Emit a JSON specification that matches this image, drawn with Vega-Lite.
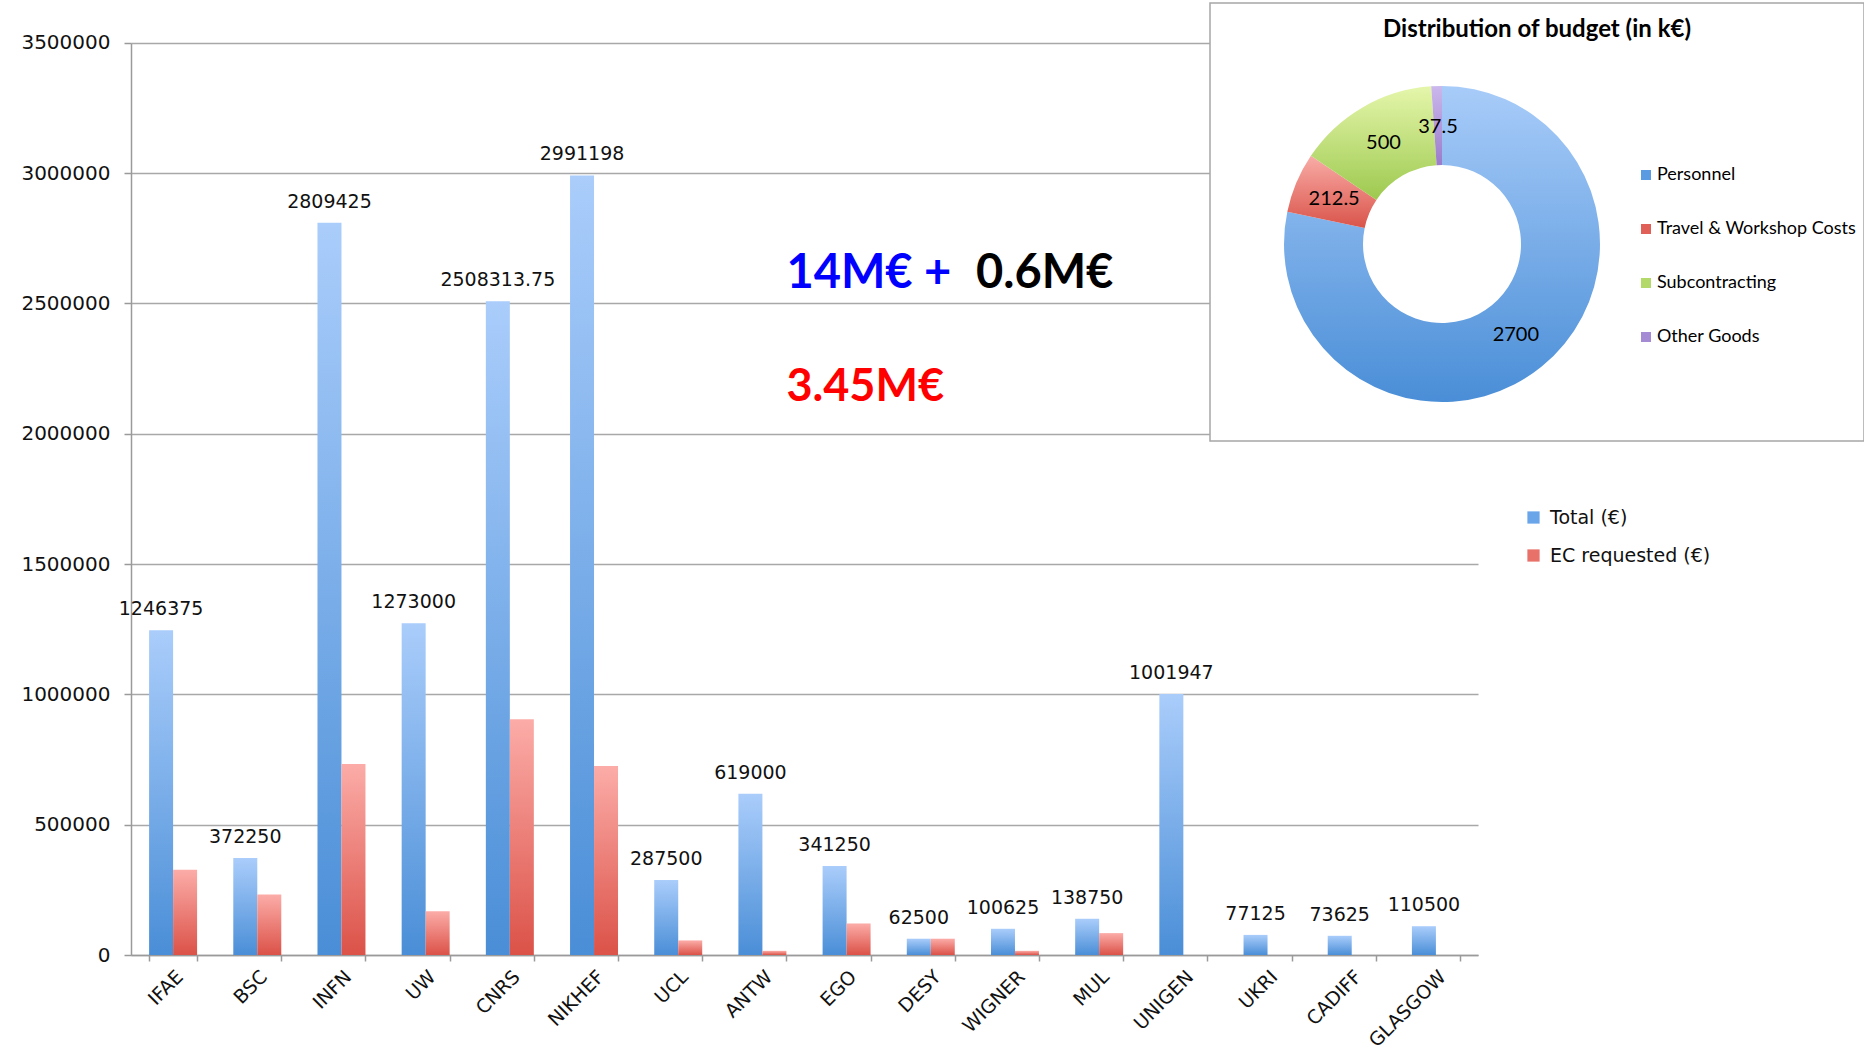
{
  "$schema": "https://vega.github.io/schema/vega-lite/v6.json",
  "padding": {"left": 20, "top": 2, "right": 0, "bottom": 0},
  "background": "white",
  "config": {"view": {"stroke": null}, "font": "DejaVu Sans"},
  "spacing": 0,
  "bounds": "flush",
  "resolve": {"scale": {"color": "independent"}, "legend": {"color": "independent"}},
  "hconcat": [
    {
      "width": 1079,
      "height": 952,
      "layer": [
        {
          "data": {"name": "budget", "values": [
            {"org": "IFAE", "series": "Total (€)", "value": 1246375},
            {"org": "BSC", "series": "Total (€)", "value": 372250},
            {"org": "INFN", "series": "Total (€)", "value": 2809425},
            {"org": "UW", "series": "Total (€)", "value": 1273000},
            {"org": "CNRS", "series": "Total (€)", "value": 2508313.75},
            {"org": "NIKHEF", "series": "Total (€)", "value": 2991198},
            {"org": "UCL", "series": "Total (€)", "value": 287500},
            {"org": "ANTW", "series": "Total (€)", "value": 619000},
            {"org": "EGO", "series": "Total (€)", "value": 341250},
            {"org": "DESY", "series": "Total (€)", "value": 62500},
            {"org": "WIGNER", "series": "Total (€)", "value": 100625},
            {"org": "MUL", "series": "Total (€)", "value": 138750},
            {"org": "UNIGEN", "series": "Total (€)", "value": 1001947},
            {"org": "UKRI", "series": "Total (€)", "value": 77125},
            {"org": "CADIFF", "series": "Total (€)", "value": 73625},
            {"org": "GLASGOW", "series": "Total (€)", "value": 110500},
            {"org": "IFAE", "series": "EC requested (€)", "value": 327000},
            {"org": "BSC", "series": "EC requested (€)", "value": 232000},
            {"org": "INFN", "series": "EC requested (€)", "value": 733000},
            {"org": "UW", "series": "EC requested (€)", "value": 168000},
            {"org": "CNRS", "series": "EC requested (€)", "value": 905000},
            {"org": "NIKHEF", "series": "EC requested (€)", "value": 725000},
            {"org": "UCL", "series": "EC requested (€)", "value": 56000},
            {"org": "ANTW", "series": "EC requested (€)", "value": 16000},
            {"org": "EGO", "series": "EC requested (€)", "value": 121000},
            {"org": "DESY", "series": "EC requested (€)", "value": 62500},
            {"org": "WIGNER", "series": "EC requested (€)", "value": 16000},
            {"org": "MUL", "series": "EC requested (€)", "value": 84000}
          ]},
          "mark": {"type": "bar", "opacity": 0},
          "encoding": {
            "x": {
              "field": "org", "type": "nominal",
              "scale": {"domain": ["IFAE","BSC","INFN","UW","CNRS","NIKHEF","UCL","ANTW","EGO","DESY","WIGNER","MUL","UNIGEN","UKRI","CADIFF","GLASGOW"], "range": [0, 1347], "paddingInner": 0.43, "paddingOuter": 0.215},
              "axis": {"title": null, "labelAngle": -45, "labelFont": "DejaVu Sans", "labelFontSize": 19, "labelColor": "#111111", "domainColor": "#9a9a9a", "domainWidth": 1.5, "tickColor": "#9a9a9a", "tickWidth": 1.5, "tickSize": 6, "tickBand": "extent", "labelPadding": 6, "grid": false}
            },
            "xOffset": {"field": "series", "type": "nominal", "scale": {"domain": ["Total (€)", "EC requested (€)"], "paddingInner": 0, "paddingOuter": 0}},
            "y": {
              "field": "value", "type": "quantitative",
              "scale": {"domain": [0, 3653000], "nice": false},
              "axis": {"title": null, "values": [0,500000,1000000,1500000,2000000,2500000,3000000,3500000], "format": "d", "labelFont": "DejaVu Sans", "labelFontSize": 20, "labelColor": "#111111", "domainColor": "#9a9a9a", "domainWidth": 1.5, "domainDash": [912, 200], "tickColor": "#9a9a9a", "tickWidth": 1.5, "tickSize": 7, "labelPadding": 14, "gridColor": "#a8a8a8", "gridWidth": 1.5}
            },
            "color": {
              "field": "series", "type": "nominal",
              "scale": {"domain": ["Total (€)", "EC requested (€)"], "range": ["#6aa5ea", "#e8716a"]},
              "legend": {"title": null, "orient": "none", "legendX": 1393, "legendY": 505, "symbolType": "square", "symbolSize": 150, "symbolStrokeWidth": 0, "labelFont": "DejaVu Sans", "labelFontSize": 19, "labelColor": "#111111", "labelOffset": 7, "labelLimit": 0, "rowPadding": 18, "padding": 0}
            }
          }
        },
        {
          "data": {"name": "budget"},
          "mark": {"type": "bar"},
          "encoding": {
            "x": {"field": "org", "type": "nominal"},
            "xOffset": {"field": "series", "type": "nominal"},
            "y": {"field": "value", "type": "quantitative"},
            "color": {
              "condition": {"test": "datum.series === 'Total (€)'", "value": {"gradient": "linear", "x1": 0, "y1": 0, "x2": 0, "y2": 1, "stops": [{"offset": 0, "color": "#aacdfb"}, {"offset": 1, "color": "#4a8ed7"}]}},
              "value": {"gradient": "linear", "x1": 0, "y1": 0, "x2": 0, "y2": 1, "stops": [{"offset": 0, "color": "#fcaca8"}, {"offset": 1, "color": "#db5248"}]}
            }
          }
        },
        {
          "data": {"name": "budget"},
          "transform": [{"filter": "datum.series === 'Total (€)'"}],
          "mark": {"type": "text", "baseline": "alphabetic", "dy": -15, "font": "DejaVu Sans", "fontSize": 19, "color": "#111111"},
          "encoding": {
            "x": {"field": "org", "type": "nominal"},
            "xOffset": {"field": "series", "type": "nominal"},
            "y": {"field": "value", "type": "quantitative"},
            "text": {"field": "value", "type": "nominal"}
          }
        },
        {
          "data": {"values": [{"org": "ANTW", "value": 2612000, "note": "14M€ +"}]},
          "mark": {"type": "text", "align": "left", "baseline": "middle", "dx": 24, "font": "Lato", "fontWeight": "bold", "fontSize": 47, "color": "#0000ff"},
          "encoding": {"x": {"field": "org", "type": "nominal"}, "y": {"field": "value", "type": "quantitative"}, "text": {"field": "note"}}
        },
        {
          "data": {"values": [{"org": "WIGNER", "value": 2612000, "note": "0.6M€"}]},
          "mark": {"type": "text", "align": "left", "baseline": "middle", "dx": -39, "font": "Lato", "fontWeight": "bold", "fontSize": 47, "color": "#000000"},
          "encoding": {"x": {"field": "org", "type": "nominal"}, "y": {"field": "value", "type": "quantitative"}, "text": {"field": "note"}}
        },
        {
          "data": {"values": [{"org": "ANTW", "value": 2178000, "note": "3.45M€"}]},
          "mark": {"type": "text", "align": "left", "baseline": "middle", "dx": 24, "font": "Lato", "fontWeight": "bold", "fontSize": 45, "color": "#ff0000"},
          "encoding": {"x": {"field": "org", "type": "nominal"}, "y": {"field": "value", "type": "quantitative"}, "text": {"field": "note"}}
        }
      ]
    },
    {
      "width": 654,
      "height": 438,
      "view": {"stroke": "#a6a6a6", "strokeWidth": 1.5, "fill": "white"},
      "title": {"text": "Distribution of budget (in k€)", "font": "Lato", "fontSize": 24, "fontWeight": "bold", "color": "#000000", "anchor": "middle", "frame": "group", "baseline": "alphabetic", "offset": -58},
      "data": {"values": [
        {"cat": "Personnel", "value": 2700, "ord": 1},
        {"cat": "Travel & Workshop Costs", "value": 212.5, "ord": 2},
        {"cat": "Subcontracting", "value": 500, "ord": 3},
        {"cat": "Other Goods", "value": 37.5, "ord": 4}
      ]},
      "encoding": {
        "theta": {"field": "value", "type": "quantitative", "stack": true},
        "order": {"field": "ord", "type": "quantitative"}
      },
      "layer": [
        {
          "mark": {"type": "arc", "outerRadius": 158, "innerRadius": 79, "xOffset": -95, "yOffset": 22, "opacity": 0},
          "encoding": {
            "color": {
              "field": "cat", "type": "nominal",
              "scale": {"domain": ["Personnel", "Travel & Workshop Costs", "Subcontracting", "Other Goods"], "range": ["#5b9be2", "#e06058", "#b2d96a", "#a58bd3"]},
              "legend": {"title": null, "orient": "none", "legendX": 427, "legendY": 163, "symbolType": "square", "symbolSize": 100, "symbolStrokeWidth": 0, "labelFont": "Lato", "labelFontSize": 18, "labelColor": "#000000", "labelOffset": 2, "labelLimit": 0, "rowPadding": 36, "padding": 0}
            }
          }
        },
        {
          "mark": {"type": "arc", "outerRadius": 158, "innerRadius": 79, "xOffset": -95, "yOffset": 22},
          "encoding": {
            "color": {
              "condition": [
                {"test": "datum.cat === 'Personnel'", "value": {"gradient": "linear", "x1": 0, "y1": 0, "x2": 0, "y2": 1, "stops": [{"offset": 0, "color": "#a8ccf9"}, {"offset": 1, "color": "#4a8ed7"}]}},
                {"test": "datum.cat === 'Travel & Workshop Costs'", "value": {"gradient": "linear", "x1": 0, "y1": 0, "x2": 0, "y2": 1, "stops": [{"offset": 0, "color": "#f9aca7"}, {"offset": 1, "color": "#d9544a"}]}},
                {"test": "datum.cat === 'Subcontracting'", "value": {"gradient": "linear", "x1": 0, "y1": 0, "x2": 0, "y2": 1, "stops": [{"offset": 0, "color": "#e5f6ab"}, {"offset": 1, "color": "#9dc94f"}]}}
              ],
              "value": {"gradient": "linear", "x1": 0, "y1": 0, "x2": 0, "y2": 1, "stops": [{"offset": 0, "color": "#cbb8ec"}, {"offset": 1, "color": "#9b7bcb"}]}
            }
          }
        },
        {
          "mark": {"type": "text", "radius": 117, "xOffset": -95, "yOffset": 22, "font": "Lato", "fontSize": 20, "color": "#000000"},
          "encoding": {"text": {"field": "value", "type": "nominal"}}
        }
      ]
    }
  ]
}
